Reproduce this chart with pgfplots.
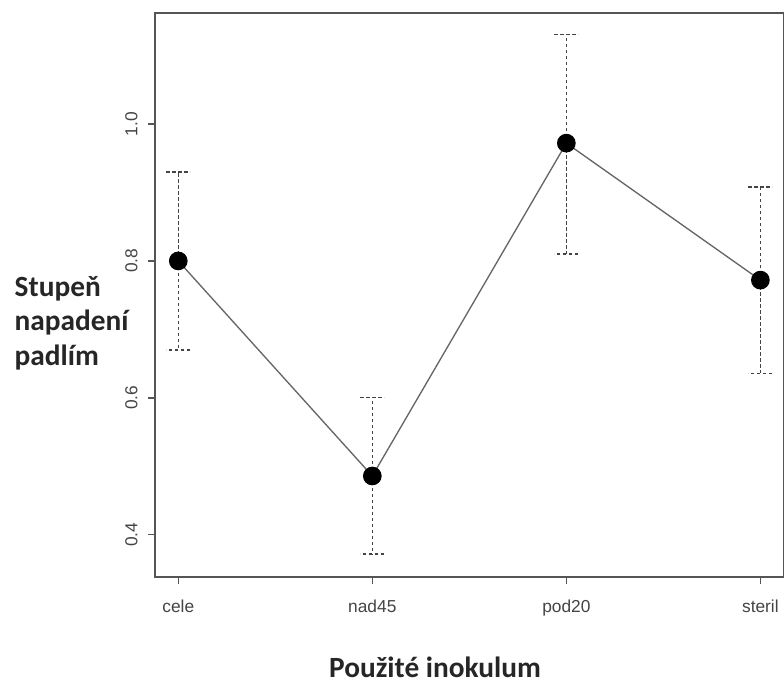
\documentclass[border=0pt]{standalone}
\usepackage{pgfplots}
\pgfplotsset{compat=1.18}
\usepackage{fontspec}
\setmainfont{Liberation Sans}
\newfontfamily\calibri{Carlito}
\definecolor{axgray}{HTML}{555555}
\definecolor{txtgray}{HTML}{444444}
\begin{document}
\begin{tikzpicture}[x=0.75pt,y=0.75pt]
\useasboundingbox (0,0) rectangle (784,686);
\begin{axis}[
  at={(155pt*0.75,109pt*0.75)}, anchor=south west,
  scale only axis, width=471.5pt, height=423pt,
  xmin=-0.12, xmax=3.12, ymin=0.3385, ymax=1.162,
  axis line style={axgray, line width=0.9pt},
  xtick={0,1,2,3}, xticklabels={cele,nad45,pod20,steril},
  ytick={0.4,0.6,0.8,1.0},
  yticklabels={0.4,0.6,0.8,1.0},
  tick align=outside, tick pos=left,
  major tick length=5.5pt,
  tick style={axgray, line width=0.9pt},
  tick label style={font=\fontsize{13}{15}\selectfont, text=txtgray},
  y tick label style={rotate=90, anchor=south},
  yticklabel shift=4pt,
  xticklabel shift=8pt,
  /pgf/number format/assume math mode=true,
  clip=false,
]
\addplot[black!60, line width=1pt, mark=*, mark size=6.5pt,
  mark options={solid, fill=black, draw=black},
  error bars/.cd, y dir=both, y explicit,
  error bar style={dash pattern=on 2.6pt off 1.9pt, txtgray, line width=1.05pt},
  error mark options={rotate=90, mark size=9pt, dash pattern=on 2.6pt off 1.9pt, txtgray, line width=1.05pt}]
coordinates {
 (0,0.800) +- (0,0.130)
 (1,0.486) += (0,0.115) -= (0,0.114)
 (2,0.972) += (0,0.159) -= (0,0.162)
 (3,0.772) += (0,0.136) -= (0,0.136)
};
\end{axis}
\node[anchor=west, align=left, font=\calibri\bfseries\fontsize{22}{26}\selectfont, text=black!85]
  at (10,363) {Stupeň\\napadení\\padlím};
\node[anchor=base, font=\calibri\bfseries\fontsize{22}{26}\selectfont, text=black!85] at (435,9) {Použité inokulum};
\end{tikzpicture}
\end{document}
